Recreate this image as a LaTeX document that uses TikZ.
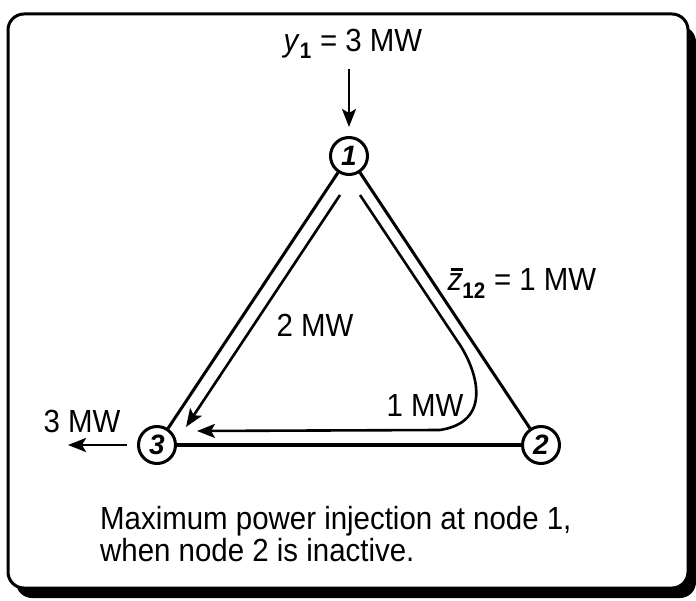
\documentclass[tikz,border=0pt]{standalone}
\usepackage{fontspec}
\setmainfont{Liberation Sans}
\usepackage{tikz}
\usetikzlibrary{arrows.meta,positioning,calc}
\definecolor{cInk}{HTML}{000000}
\newcommand{\zbar}{\leavevmode\rlap{\hspace{0.1em}\rule[0.62em]{0.42em}{0.1em}}\textit{z}}
\tikzset{
  bus/.style={circle, draw=cInk, line width=3pt, fill=white, minimum size=37pt,
              inner sep=0pt, font=\fontsize{28}{28}\selectfont\bfseries\itshape},
  branch/.style={draw=cInk, line width=3pt},
  flow/.style={-{Stealth[length=18pt,width=14pt,inset=4pt]}, line width=2.6pt, draw=cInk},
  lbl/.style={font=\fontsize{32}{32}\selectfont, inner sep=0pt, xscale=0.92},
}

\begin{document}
\begin{tikzpicture}[x=1pt,y=-1pt]
  \useasboundingbox (0,0) rectangle (696,601);
  % frame and its shadow
  \fill[cInk, rounded corners=16pt] (16,26) rectangle (696,598);
  \draw[line width=3pt, fill=white, rounded corners=16pt] (8,14) rectangle (688,588);
  % the three buses
  \node[bus] (n1) at (349,156) {1};
  \node[bus] (n2) at (541,445) {2};
  \node[bus] (n3) at (157,445) {3};
  \draw[branch] (n1) -- (n3);
  \draw[branch] (n1) -- (n2);
  \draw[branch, line width=3.5pt] (n3) -- (n2);
  % injection and withdrawal
  \node[lbl] (inj) at (353,44) {\textit{y}\textsubscript{\bfseries 1} = 3 MW};
  \draw[flow] ($(inj.south -| n1)+(0,10)$) -- ($(n1.north)+(0,-9)$);
  \node[lbl] (out) at (82,421) {3 MW};
  \coordinate (sink) at (68,445);
  \draw[flow, shorten <=10pt] (n3) -- (sink);
  % flows on the lines
  \coordinate (f13s) at (340,195);
  \coordinate (f13e) at (186,427);
  \draw[flow] (f13s) -- (f13e);
  \coordinate (f12s) at (360,195);
  \coordinate (f12b) at (460,345);
  \coordinate (f12e) at (197,431);
  \draw[flow] (f12s) -- (f12b) .. controls (478,373) and (492,422) .. (440,430) -- (f12e);
  \node[lbl] (l13) at (315,325) {2 MW};
  \node[lbl] (l12) at (425,405) {1 MW};
  \node[lbl] (lim) at (522,283) {\zbar\textsubscript{\bfseries 12} = 1 MW};
  % caption
  \node[lbl, align=left, anchor=north west] (cap) at (100,506)
    {Maximum power injection at node 1,\\when node 2 is inactive.};
\end{tikzpicture}
\end{document}
